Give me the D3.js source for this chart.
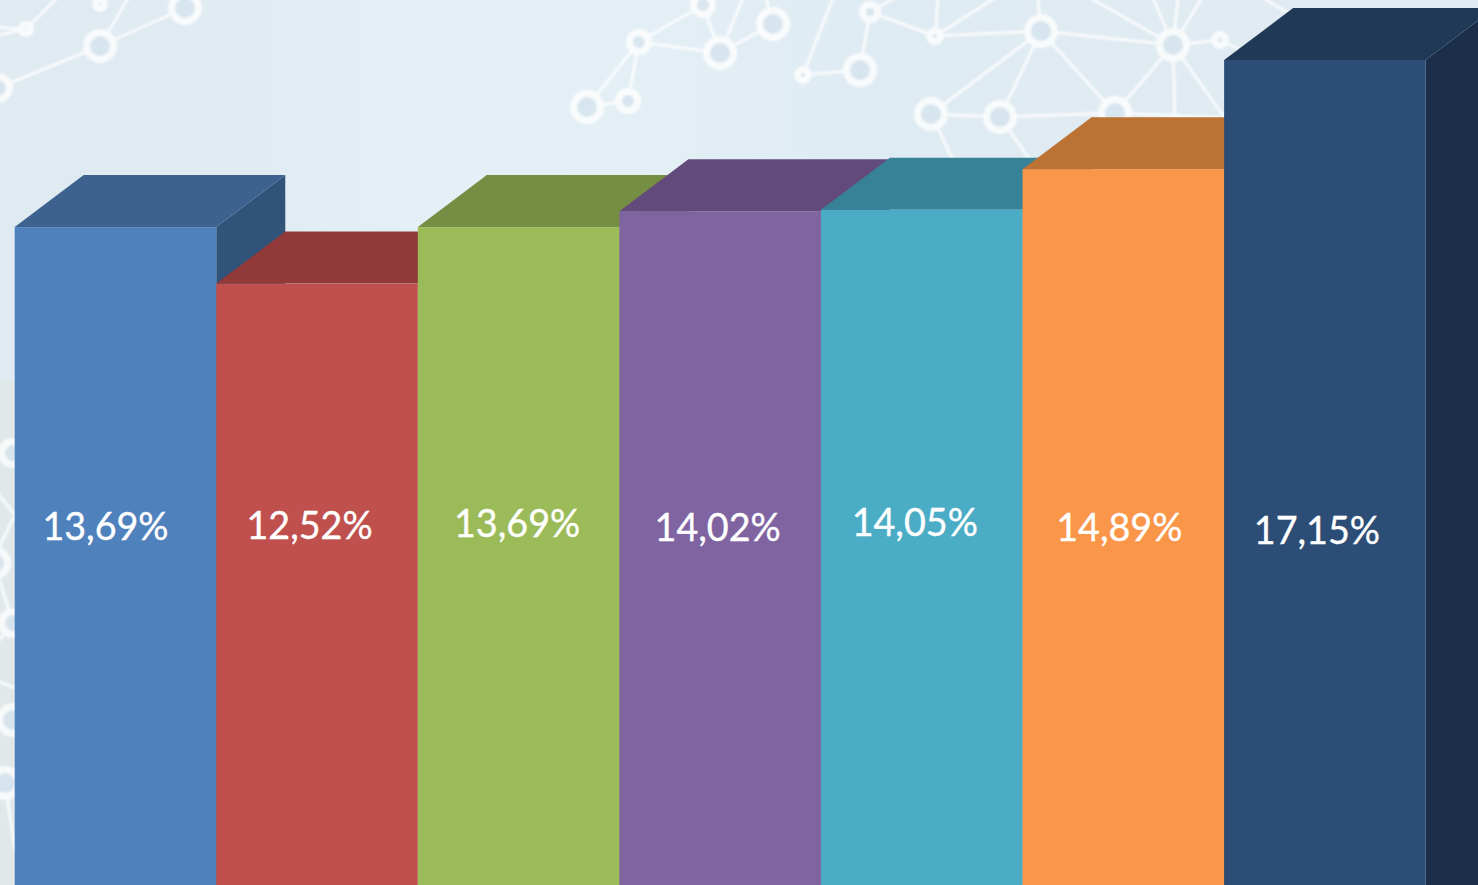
<!DOCTYPE html>
<html>
<head>
<meta charset="utf-8">
<script src="https://cdn.jsdelivr.net/npm/d3@7"></script>
<style>
html,body{margin:0;padding:0;background:#e2eef4;overflow:hidden}
svg{display:block}
text{font-family:Lato,"Open Sans",sans-serif;fill:#fff;stroke:#fff;stroke-width:0.35px}
</style>
</head>
<body>
<svg id="chart" width="1478" height="885"></svg>
<script>
// ---- data ----
const categories = ["A","B","C","D","E","F","G"];
const values = [13.69,12.52,13.69,14.02,14.05,14.89,17.15];
const frontColors = ["#4f81bd","#c0504d","#9bbb59","#8064a2","#4bacc6","#f9964a","#2c4d75"];
const topColors   = ["#3e628f","#923a39","#768e44","#624a7b","#388298","#bc7233","#203957"];
const sideColors  = ["#315279","#7a3130","#637a38","#523e67","#2f6d80","#9d5f2a","#1c2f4a"];
// label nudges from the bar centre (px) and baselines: the source labels were placed by hand
const labelDx = [-10,-7.5,-1.5,-2.5,-7,-4,-8];
const labelBaseline = [540,539,537,541,536,541,544];
// background decoration: network nodes [x,y,outer radius]
const bgNodes = [[-2,88,15],[100,46,17],[26,29,8],[185,8,17],[100,4,8],[639,42,13],[720,53,17],[773,24,17],[703,5,13],[587,107,17],[628,101,13],[803,75,9],[860,70,17],[870,12,11],[935,36,9],[1041,31,17],[931,114,17],[1000,117,17],[1173,45,17],[1220,40,9],[1115,113,17],[13,453,15],[-6,563,17],[13,623,15],[13,720,17],[5,783,17]];
const bgEdges = [[-2,88,100,46],[100,46,185,8],[100,46,130,-5],[26,29,60,-5],[26,29,-5,27],[26,29,-5,36],[639,42,720,53],[639,42,703,5],[720,53,703,5],[720,53,773,24],[639,42,587,107],[639,42,628,101],[587,107,628,101],[720,53,743,-2],[773,24,766,-2],[803,75,860,70],[803,75,833,-2],[860,70,870,12],[870,12,935,36],[870,12,895,-2],[935,36,938,-2],[935,36,995,-2],[935,36,1041,31],[1041,31,1038,-2],[1041,31,931,114],[1041,31,1000,117],[1041,31,1173,45],[1041,31,1115,113],[1173,45,1090,-2],[1173,45,1153,-2],[1173,45,1178,-2],[1173,45,1202,-2],[1173,45,1220,40],[1173,45,1115,113],[1173,45,1175,118],[1173,45,1225,118],[1220,40,1245,52],[931,114,1000,117],[1000,117,1115,113],[1115,113,1225,118],[931,114,953,160],[1000,117,1030,160],[1263,-2,1290,14],[-5,490,15,515],[15,515,-5,555],[-6,563,13,623],[13,623,-5,645],[-5,680,15,688],[5,783,15,850]];

// ---- layout ----
const W = 1478, H = 885;
const depthX = 69, depthY = 52;
const x = d3.scaleBand().domain(categories).range([14.7,1425.7]).padding(0);
const y = d3.scaleLinear().domain([0,17.15]).range([888.3,60]);
const fmt = d3.formatLocale({decimal:",",thousands:".",grouping:[3],currency:["","%"]}).format(".2f");

const svg = d3.select("#chart");
const defs = svg.append("defs");
const grad = defs.append("linearGradient").attr("id","bg").attr("x1","0").attr("y1","0").attr("x2","1").attr("y2","0");
[[0,"#dfeaf1"],[0.12,"#dfeaf1"],[0.3,"#e5f0f6"],[0.45,"#e3eff5"],[0.6,"#dfebf2"],[1,"#e0ebf1"]].forEach(s=>grad.append("stop").attr("offset",s[0]).attr("stop-color",s[1]));
defs.append("filter").attr("id","soft").append("feGaussianBlur").attr("stdDeviation",0.8);

// background
svg.append("rect").attr("width",W).attr("height",H).attr("fill","url(#bg)");
svg.append("rect").attr("x",0).attr("y",380).attr("width",40).attr("height",H-380).attr("fill","#e0e8ea");
const bg = svg.append("g").attr("opacity",0.8).attr("filter","url(#soft)");
bg.selectAll("line").data(bgEdges).join("line")
  .attr("x1",d=>d[0]).attr("y1",d=>d[1]).attr("x2",d=>d[2]).attr("y2",d=>d[3])
  .attr("stroke","#fff").attr("stroke-width",3);
bg.selectAll("circle").data(bgNodes).join("circle")
  .attr("cx",d=>d[0]).attr("cy",d=>d[1]).attr("r",d=>d[2]-3.5)
  .attr("fill","#d6e4ef").attr("stroke","#fff").attr("stroke-width",7);

// bars, painted left to right so each bar overlaps the previous one
const poly = pts => "M" + pts.map(p=>p.join(",")).join("L") + "Z";
const bars = svg.append("g").selectAll("g").data(categories.map((c,i)=>({c,i,v:values[i]}))).join("g");
bars.append("path").attr("fill",d=>sideColors[d.i]).attr("d",d=>{
  const r = x(d.c)+x.bandwidth(), t = y(d.v), b = y(0);
  return poly([[r,t],[r+depthX,t-depthY],[r+depthX,b],[r,b]]);
});
bars.append("path").attr("fill",d=>topColors[d.i]).attr("d",d=>{
  const l = x(d.c), r = l+x.bandwidth(), t = y(d.v);
  return poly([[l,t],[l+depthX,t-depthY],[r+depthX,t-depthY],[r,t]]);
});
bars.append("rect").attr("fill",d=>frontColors[d.i])
  .attr("x",d=>x(d.c)).attr("y",d=>y(d.v))
  .attr("width",x.bandwidth()).attr("height",d=>y(0)-y(d.v));

// labels
svg.append("g").selectAll("text").data(categories.map((c,i)=>({c,i,v:values[i]}))).join("text")
  .attr("x",d=>x(d.c)+x.bandwidth()/2+labelDx[d.i])
  .attr("y",d=>labelBaseline[d.i])
  .attr("text-anchor","middle")
  .attr("font-size",37.7)
  .text(d=>fmt(d.v)+"%");
</script>
</body>
</html>
